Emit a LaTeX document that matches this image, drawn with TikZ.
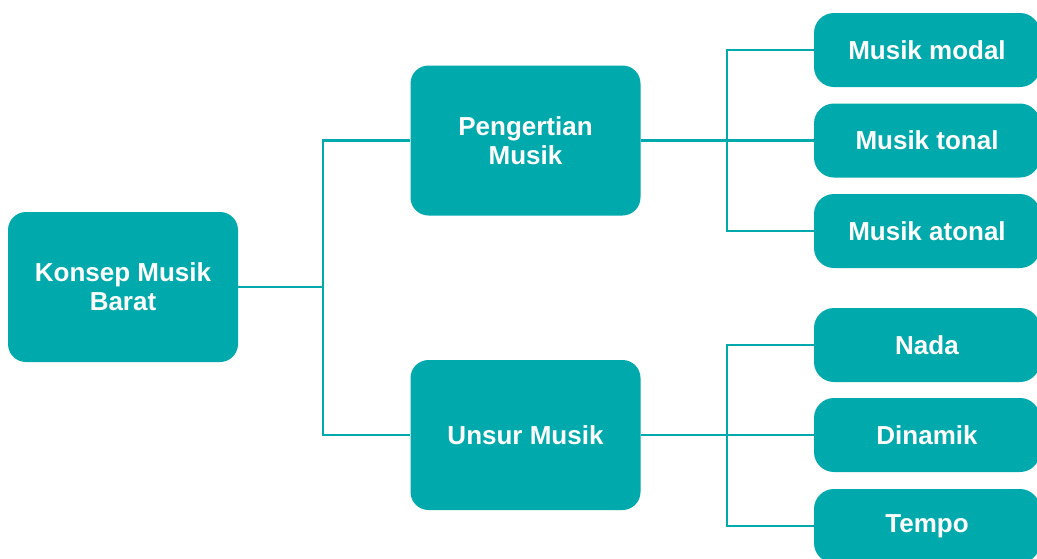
\documentclass[tikz,border=0pt]{standalone}
\usepackage{fontspec}
\setmainfont{Liberation Sans}
\definecolor{teal1}{HTML}{00A9AC}
\begin{document}
\begin{tikzpicture}[x=1pt,y=1pt,
  bigbox/.style={fill=teal1, rounded corners=18pt, minimum width=230pt, minimum height=150pt,
    text=white, font=\fontsize{26}{29}\selectfont\bfseries, align=center, inner sep=0pt},
  leafbox/.style={fill=teal1, rounded corners=20pt, minimum width=226pt, minimum height=74pt,
    text=white, font=\fontsize{26}{29}\selectfont\bfseries, align=center, inner sep=0pt},
  link/.style={draw=teal1, line width=2.8pt}]
\useasboundingbox (0,0) rectangle (1037,-558);
\node[bigbox] (root) at (123,-287) {Konsep Musik\\Barat};
\node[bigbox] (peng) at (525.5,-140.5) {Pengertian\\Musik};
\node[bigbox] (unsur) at (525.5,-435) {Unsur Musik};
\node[leafbox] (modal) at (927,-50) {Musik modal};
\node[leafbox] (tonal) at (927,-140.5) {Musik tonal};
\node[leafbox] (atonal) at (927,-231) {Musik atonal};
\node[leafbox] (nada) at (927,-345) {Nada};
\node[leafbox] (dinamik) at (927,-435) {Dinamik};
\node[leafbox] (tempo) at (927,-526) {Tempo};
\coordinate (j1) at (323,-287);
\coordinate (j2) at (727,-140.5);
\coordinate (j3) at (727,-435);
\draw[link] (root.east) -- (j1);
\draw[link] (j1) |- (peng.west);
\draw[link] (j1) |- (unsur.west);
\draw[link] (peng.east) -- (tonal.west);
\draw[link] (j2) |- (modal.west);
\draw[link] (j2) |- (atonal.west);
\draw[link] (unsur.east) -- (dinamik.west);
\draw[link] (j3) |- (nada.west);
\draw[link] (j3) |- (tempo.west);
\end{tikzpicture}
\end{document}
